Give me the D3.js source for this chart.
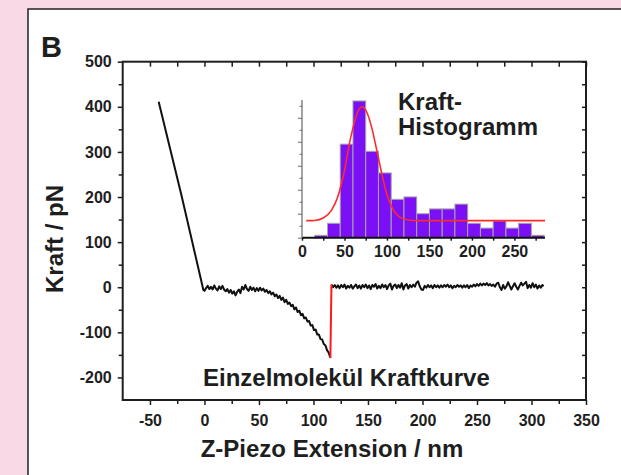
<!DOCTYPE html>
<html>
<head>
<meta charset="utf-8">
<script src="https://cdn.jsdelivr.net/npm/d3@7"></script>
<style>
  body { margin: 0; background: #f9d9e6; }
  svg { display: block; }
  text { font-family: "Liberation Sans", Arial, sans-serif; font-weight: bold; fill: #1e1e1e; }
</style>
</head>
<body>
<script>
// Kraftkurve: Annaeherung (Kontaktbereich)
var approach = [[-42, 411], [-21, 203], [-1, -6]];
// Kraftkurve: Rueckzug bis zum Abriss
var retract = [
  [0, -8], [1.5, -2], [3, 3], [4.5, -4], [6, 1], [7.5, -5], [9, 4], [10.5, -3], [12, -7], [13.5, 2],
  [15, -4], [16.5, 3], [18, -5], [19.5, -9], [21, -4], [22.5, -12], [24, -6], [25.5, -14], [27, -9], [28.5, -18],
  [30, -10], [31.5, -5], [33, -13], [34.5, 1], [36, -5], [37.5, 5], [39, -4], [40.5, -8], [42, 1], [43.5, -6],
  [45, -1], [46.5, -9], [48, -2], [49.5, -8], [51, -1], [52.5, -7], [54, -3], [55.5, -10],
  [57, -6], [58.5, -13], [60, -9], [61.5, -16], [63, -12], [64.5, -20], [66, -16], [67.5, -24], [69, -19], [70.5, -28],
  [72, -23], [73.5, -33], [75, -28], [76.5, -37], [78, -34], [79.5, -42], [81, -39], [82.5, -49], [84, -45], [85.5, -55],
  [87, -52], [88.5, -62], [90, -59], [91.5, -69], [93, -67], [94.5, -76], [96, -75], [97.5, -85], [99, -84], [100.5, -95],
  [102, -94], [103.5, -105], [105, -105], [106.5, -115], [108, -116], [109.5, -126], [111, -129], [112.5, -140], [114, -145], [115.5, -157]
];
// Abriss (rot)
var rupture = [[115.5, -157], [116.5, 6]];
// Kraftkurve nach dem Abriss
var plateau = [
  [116.5, 6], [118, 0], [119.5, 5], [121, -1], [122.5, 4], [124, -2], [125.5, 5], [127, 0], [128.5, 6], [130, -3],
  [131.5, 3], [133, -1], [134.5, 5], [136, -3], [137.5, 2], [139, 6], [140.5, -2], [142, 4], [143.5, -3], [145, 5],
  [146.5, 0], [148, 6], [149.5, -2], [151, 4], [152.5, -4], [154, 5], [155.5, 1], [157, 7], [158.5, -3], [160, 3],
  [161.5, -2], [163, 6], [164.5, 0], [166, 5], [167.5, -4], [169, 4], [170.5, 8], [172, -5], [173.5, 3], [175, 6],
  [176.5, -2], [178, 5], [179.5, -1], [181, 9], [182.5, -5], [184, 4], [185.5, 7], [187, -3], [188.5, 5], [190, 0],
  [191.5, 6], [193, 1], [194.5, 10], [196, 13], [197.5, 2], [199, -5], [200.5, -6], [202, 3], [203.5, -1], [205, 5],
  [206.5, 0], [208, 4], [209.5, -2], [211, 5], [212.5, 0], [214, 4], [215.5, -1], [217, 4], [218.5, 0], [220, 5],
  [221.5, 1], [223, 6], [224.5, 0], [226, 4], [227.5, -2], [229, 3], [230.5, 0], [232, 5], [233.5, 1], [235, 4],
  [236.5, -1], [238, 4], [239.5, 0], [241, 5], [242.5, -2], [244, 4], [245.5, 1], [247, 6], [248.5, 2], [250, 7],
  [251.5, 3], [253, 8], [254.5, 4], [256, 8], [257.5, 5], [259, 9], [260.5, 4], [262, 7], [263.5, 3], [265, 6],
  [266.5, 1], [268, 8], [269.5, 10], [271, 0], [272.5, -6], [274, 5], [275.5, -3], [277, 2], [278.5, 11], [280, 3],
  [281.5, -5], [283, 2], [284.5, 9], [286, 1], [287.5, -5], [289, 3], [290.5, 10], [292, 4], [293.5, 8], [295, 12],
  [296.5, -2], [298, 5], [299.5, -1], [301, 9], [302.5, 0], [304, 6], [305.5, -3], [307, 4], [308.5, -1], [310, 5], [311, 2]
];
var xTicks = [-50, 0, 50, 100, 150, 200, 250, 300, 350];
var yTicks = [-200, -100, 0, 100, 200, 300, 400, 500];

// Histogramm (Inset)
var binStart = [15, 30, 45, 60, 75, 90, 105, 120, 135, 150, 165, 180, 195, 210, 225, 240, 255, 270];
var counts   = [1, 6, 39, 57, 36, 27, 16, 17, 10, 12, 12, 14, 6, 4, 7, 4, 6, 1];
var binWidth = 15;
var fitX = [5, 15, 25, 35, 42, 50, 56, 62, 67, 71, 76, 82, 88, 94, 100, 107, 115, 125, 137, 286];
var fitY = [7.1, 7.2, 8.2, 11.6, 17, 28, 39.5, 48.5, 53.5, 54.6, 52.5, 46, 36.5, 26.5, 18, 11.8, 8.6, 7.4, 7.1, 7.1];
var histTicks = [0, 50, 100, 150, 200, 250];

var W = 621, H = 475;
var svg = d3.select("body").append("svg").attr("width", W).attr("height", H);

svg.append("rect").attr("width", W).attr("height", H).attr("fill", "#f9d9e6");
svg.append("rect").attr("x", 28).attr("y", 9).attr("width", W).attr("height", H)
  .attr("fill", "#fff").attr("stroke", "#222").attr("stroke-width", 1.5);

var x = d3.scaleLinear().domain([-75, 350]).range([122.7, 586]);
var y = d3.scaleLinear().domain([-250, 500]).range([400, 61.7]);
var fmt = function (d) { return String(d); };  // Bindestrich statt Minuszeichen

function styleAxis(g) {
  g.select(".domain").remove();
  g.selectAll("line").attr("stroke", "#1e1e1e").attr("stroke-width", 1.5);
  g.selectAll("text").attr("font-size", 16).attr("font-family", null).attr("fill", "#1e1e1e");
}

var minorX = [-25, 25, 75, 125, 175, 225, 275, 325];
var minorY = [-150, -50, 50, 150, 250, 350, 450];

svg.append("g").attr("transform", "translate(0,400)")
  .call(d3.axisBottom(x).tickValues(xTicks).tickFormat(fmt).tickSize(5).tickPadding(10).tickSizeOuter(0)).call(styleAxis);
svg.append("g").attr("transform", "translate(0,400)")
  .call(d3.axisBottom(x).tickValues(minorX).tickSize(4).tickFormat("").tickSizeOuter(0)).call(styleAxis);
svg.append("g").attr("transform", "translate(0,61.7)")
  .call(d3.axisTop(x).tickValues(xTicks.concat(minorX)).tickSize(-5).tickFormat("").tickSizeOuter(0)).call(styleAxis);

svg.append("g").attr("transform", "translate(122.7,0)")
  .call(d3.axisLeft(y).tickValues(yTicks).tickFormat(fmt).tickSize(5).tickPadding(6).tickSizeOuter(0)).call(styleAxis);
svg.append("g").attr("transform", "translate(122.7,0)")
  .call(d3.axisLeft(y).tickValues(minorY).tickSize(4).tickFormat("").tickSizeOuter(0)).call(styleAxis);
svg.append("g").attr("transform", "translate(586,0)")
  .call(d3.axisRight(y).tickValues(yTicks.concat(minorY)).tickSize(-4).tickFormat("").tickSizeOuter(0)).call(styleAxis);

// Rahmen
svg.append("rect").attr("x", x(-75)).attr("y", y(500))
  .attr("width", x(350) - x(-75)).attr("height", y(-250) - y(500))
  .attr("fill", "none").attr("stroke", "#1e1e1e").attr("stroke-width", 2);

var line = d3.line().x(function (d) { return x(d[0]); }).y(function (d) { return y(d[1]); });
svg.append("path").datum(approach.concat(retract)).attr("d", line)
  .attr("fill", "none").attr("stroke", "#111").attr("stroke-width", 2).attr("stroke-linejoin", "round");
svg.append("path").datum(plateau).attr("d", line)
  .attr("fill", "none").attr("stroke", "#111").attr("stroke-width", 2).attr("stroke-linejoin", "round");
svg.append("path").datum(rupture).attr("d", line)
  .attr("fill", "none").attr("stroke", "#ff1a1a").attr("stroke-width", 2);

// Inset
var xi = d3.scaleLinear().domain([0, 286]).range([302, 545]);
var yi = d3.scaleLinear().domain([0, 57.4]).range([237.7, 100]);

svg.append("g").selectAll("rect").data(binStart).enter().append("rect")
  .attr("x", function (d) { return xi(d); })
  .attr("width", function (d) { return xi(d + binWidth) - xi(d); })
  .attr("y", function (d, i) { return yi(counts[i]); })
  .attr("height", function (d, i) { return yi(0) - yi(counts[i]); })
  .attr("fill", "#7b0ff5").attr("stroke", "#a6a6a6").attr("stroke-width", 1);

var fit = fitX.map(function (d, i) { return [d, fitY[i]]; });
svg.append("path").datum(fit)
  .attr("d", d3.line().curve(d3.curveMonotoneX).x(function (d) { return xi(d[0]); }).y(function (d) { return yi(d[1]); }))
  .attr("fill", "none").attr("stroke", "#ff2a2a").attr("stroke-width", 1.6);

svg.append("g").attr("transform", "translate(0,237.7)")
  .call(d3.axisBottom(xi).tickValues(d3.range(0, 286, 25)).tickSize(3).tickPadding(4.5).tickSizeOuter(0)
    .tickFormat(function (d) { return histTicks.indexOf(d) >= 0 ? d : ""; }))
  .call(styleAxis);
svg.append("line").attr("x1", xi(0)).attr("x2", xi(286)).attr("y1", 237.7).attr("y2", 237.7)
  .attr("stroke", "#111").attr("stroke-width", 2);

svg.append("g").attr("transform", "translate(302,0)")
  .call(d3.axisLeft(yi).tickValues([0, 10, 20, 30, 40, 50]).tickSize(4).tickFormat("").tickSizeOuter(0)).call(styleAxis)
  .selectAll("line").attr("stroke", "#666").attr("stroke-width", 1);
svg.append("g").attr("transform", "translate(302,0)")
  .call(d3.axisLeft(yi).tickValues([5, 15, 25, 35, 45, 55]).tickSize(2.5).tickFormat("").tickSizeOuter(0)).call(styleAxis)
  .selectAll("line").attr("stroke", "#666").attr("stroke-width", 1);
svg.append("line").attr("x1", 302).attr("x2", 302).attr("y1", yi(0)).attr("y2", yi(57.4))
  .attr("stroke", "#666").attr("stroke-width", 1.2);

// Beschriftungen
svg.append("text").attr("x", 41).attr("y", 57).attr("font-size", 29).text("B");
svg.append("text").attr("x", 398).attr("y", 110).attr("font-size", 24).text("Kraft-");
svg.append("text").attr("x", 398).attr("y", 134.5).attr("font-size", 24).text("Histogramm");
svg.append("text").attr("x", 203).attr("y", 386).attr("font-size", 24).text("Einzelmolekül Kraftkurve");
svg.append("text").attr("x", 332).attr("y", 457).attr("font-size", 24).attr("text-anchor", "middle")
  .text("Z-Piezo Extension / nm");
svg.append("text").attr("transform", "translate(63,239) rotate(-90)").attr("font-size", 24)
  .attr("text-anchor", "middle").text("Kraft / pN");
</script>
</body>
</html>
